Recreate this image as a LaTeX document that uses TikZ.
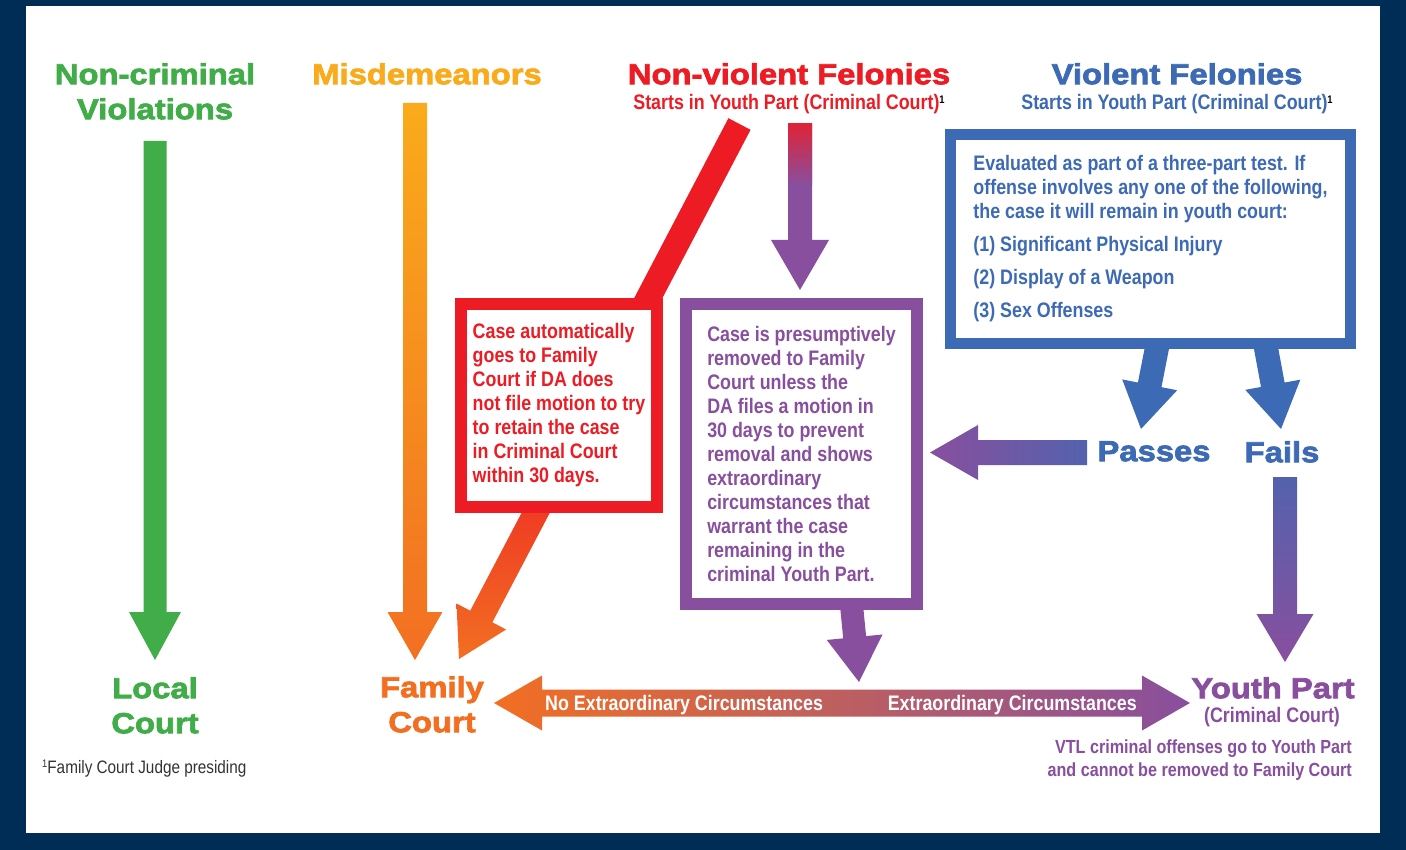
\documentclass[tikz,border=0pt]{standalone}
\usepackage{fontspec}
\usetikzlibrary{calc}
\setmainfont{Liberation Sans}
\newfontfamily\heavyfont[FakeStretch=1.13,FakeBold=2.5]{Liberation Sans Bold}
\newfontfamily\condfont[FakeStretch=0.85]{Liberation Sans Bold}
\newfontfamily\condreg[FakeStretch=0.85]{Liberation Sans}

\definecolor{navy}{HTML}{002D56}
\definecolor{vgreen}{HTML}{40AD48}
\definecolor{myellow}{HTML}{FAAB1B}
\definecolor{forange}{HTML}{F26F22}
\definecolor{fred}{HTML}{ED1C24}
\definecolor{ypurple}{HTML}{884F9E}
\definecolor{vblue}{HTML}{3D6AB4}

\newcommand{\fnmark}{\smash{\raisebox{6pt}{\color{black}\fontsize{11}{11}\selectfont 1}}}
% fat arrow: style, tail, tip, half shaft, half head, head length
\newcommand{\fatarrow}[6]{%
  \coordinate (fa-h) at ($(#3)!#6pt!(#2)$);
  \path[#1] ($(#2)!#4pt!90:(#3)$) -- ($(fa-h)!#4pt!90:(#3)$) -- ($(fa-h)!#5pt!90:(#3)$)
    -- (#3) -- ($(fa-h)!#5pt!-90:(#3)$) -- ($(fa-h)!#4pt!-90:(#3)$) -- ($(#2)!#4pt!-90:(#3)$) -- cycle;}

\begin{document}
\begin{tikzpicture}[x=1pt,y=-1pt,
  heading/.style={font=\heavyfont\fontsize{29}{35}\selectfont, align=center, inner sep=0pt},
  sub/.style={font=\condfont\fontsize{21}{24}\selectfont, inner sep=0pt},
  box/.style={draw=#1, line width=12pt, fill=white, text=#1, align=left,
    font=\condfont\fontsize{21}{24}\selectfont, inner sep=0pt}]
\fill[navy] (0,0) rectangle (1406,850);
\fill[white] (26,6) rectangle (1380,833);

% column heads
\node[heading, text=vgreen, anchor=north] (nc) at (155,63) {Non-criminal\\Violations};
\node[heading, text=myellow, anchor=north] (misd) at (427,63) {Misdemeanors};
\node[heading, text=fred, anchor=north] (nvf) at (789,63) {Non-violent Felonies};
\node[sub, text=fred, anchor=north] (nvfsub) at (789,94) {Starts in Youth Part (Criminal Court)\fnmark};
\node[heading, text=vblue, anchor=north] (vf) at (1177,63) {Violent Felonies};
\node[sub, text=vblue, anchor=north] (vfsub) at (1177,94) {Starts in Youth Part (Criminal Court)\fnmark};

% arrows
\coordinate (nctail) at (155,141); \coordinate (nchead) at (155,660);
\fatarrow{fill=vgreen}{nctail}{nchead}{11.5}{26}{48}
\coordinate (mstail) at (415,103); \coordinate (mshead) at (415,660);
\fatarrow{top color=myellow, bottom color=forange}{mstail}{mshead}{12}{27.5}{48}
\coordinate (nvdtail) at (739.5,124); \coordinate (nvdbend) at (584.4,420); \coordinate (nvdhead) at (459,659);
\draw[fred, line width=25pt] (nvdtail) -- (nvdbend);
\fatarrow{top color=fred, bottom color=forange}{nvdbend}{nvdhead}{12.5}{28}{48}
\coordinate (nvvtail) at (800,124); \coordinate (nvvhead) at (800,290);
\fatarrow{fill=ypurple}{nvvtail}{nvvhead}{12}{29}{50}
\shade[top color=fred!85!ypurple, bottom color=ypurple] (788,124) rectangle (812,185);
\coordinate (pbtail) at (851,600); \coordinate (pbhead) at (859,682);
\fatarrow{fill=ypurple}{pbtail}{pbhead}{11.5}{28}{45}
\coordinate (passtail) at (1158.5,340); \coordinate (passhead) at (1141,429);
\fatarrow{fill=vblue}{passtail}{passhead}{12}{28}{45}
\coordinate (failtail) at (1264.5,340); \coordinate (failhead) at (1281,429);
\fatarrow{fill=vblue}{failtail}{failhead}{12}{28}{45}
\coordinate (ptail) at (1087,452.5); \coordinate (phead) at (930,452.5);
\fatarrow{left color=ypurple, right color=vblue!70!ypurple}{ptail}{phead}{12.5}{27.5}{48}
\coordinate (ftail) at (1285,477); \coordinate (fhead) at (1285,662);
\fatarrow{top color=vblue!70!ypurple, bottom color=ypurple}{ftail}{fhead}{12}{28.5}{48}
\coordinate (fcin) at (494,703); \coordinate (ypin) at (1190,703);
\shade[left color=forange, right color=ypurple] (fcin) -- ($(fcin)+(48,-27.5)$) -- ($(fcin)+(48,-13.5)$)
  -- ($(ypin)+(-48,-13.5)$) -- ($(ypin)+(-48,-27.5)$) -- (ypin) -- ($(ypin)+(-48,27.5)$)
  -- ($(ypin)+(-48,13.5)$) -- ($(fcin)+(48,13.5)$) -- ($(fcin)+(48,27.5)$) -- cycle;
\node[sub, text=white, anchor=base west, font=\condfont\fontsize{21}{24}\selectfont] (noec) at (545,710) {No Extraordinary Circumstances};
\node[sub, text=white, anchor=base east, font=\condfont\fontsize{21}{24}\selectfont] (ec) at (1137,710) {Extraordinary Circumstances};

% boxes
\node[box=fred, minimum width=196, minimum height=203] (autobox) at (559,405.5)
  {Case automatically\\goes to Family\\Court if DA does\\not file motion to try\\to retain the case\\in Criminal Court\\within 30 days.};
\node[box=ypurple, minimum width=231, minimum height=300] (presbox) at (801.5,454)
  {Case is presumptively\\removed to Family\\Court unless the\\DA files a motion in\\30 days to prevent\\removal and shows\\extraordinary\\circumstances that\\warrant the case\\remaining in the\\criminal Youth Part.};
\node[box=vblue, line width=11pt, minimum width=400, minimum height=209] (testbox) at (1150.5,239)
  {Evaluated as part of a three-part test. If\\offense involves any one of the following,\\the case it will remain in youth court:\\[9pt]
   (1) Significant Physical Injury\\[9pt](2) Display of a Weapon\\[9pt](3) Sex Offenses};

% outcomes
\node[heading, text=vblue, anchor=north] (pass) at (1154,441) {Passes};
\node[heading, text=vblue, anchor=north] (fail) at (1282,441) {Fails};
\node[heading, text=vgreen, anchor=north] (local) at (155,677) {Local\\Court};
\node[heading, text=forange, anchor=north] (family) at (432,676) {Family\\Court};
\node[heading, text=ypurple, anchor=north] (youth) at (1273,677) {Youth Part};
\node[sub, text=ypurple, anchor=north] (ycrim) at (1272,707) {(Criminal Court)};
\node[sub, text=ypurple, align=right, anchor=north east, font=\condfont\fontsize{19}{23}\selectfont] (vtl) at (1352,740)
  {VTL criminal offenses go to Youth Part\\and cannot be removed to Family Court};
\node[anchor=north west, inner sep=0pt, text=black!80, font=\condreg\fontsize{18}{22}\selectfont] (fn) at (42,760)
  {\smash{\raisebox{6pt}{\fontsize{11}{11}\selectfont 1}}Family Court Judge presiding};
\end{tikzpicture}
\end{document}
